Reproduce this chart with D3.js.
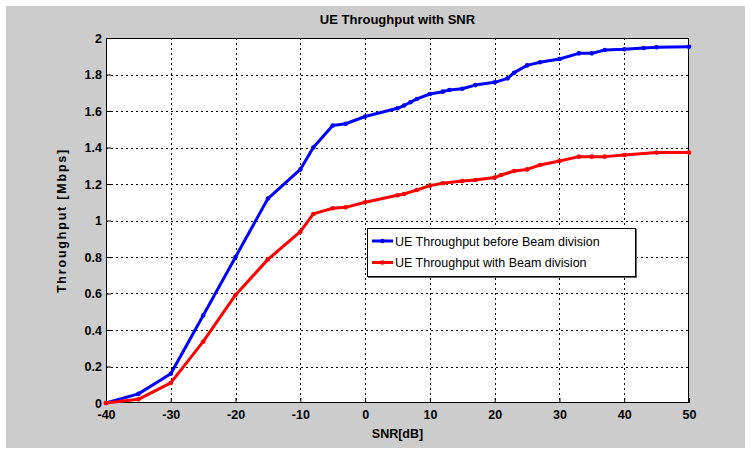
<!DOCTYPE html>
<html>
<head>
<meta charset="utf-8">
<script src="https://cdn.jsdelivr.net/npm/d3@7"></script>
<style>
  body { margin: 0; background: #fff; }
  svg text { font-family: "Liberation Sans", Arial, sans-serif; }
</style>
</head>
<body>
<svg width="750" height="450"></svg>
<script>
// data
var snrBefore = [-40, -35, -30, -25, -20, -15, -10, -8, -5, -3, 0, 5, 6, 7, 8, 10, 12, 13, 15, 17, 20, 22, 23, 25, 27, 30, 33, 35, 37, 40, 43, 45, 50];
var tputBefore = [0, 0.05, 0.16, 0.48, 0.80, 1.12, 1.28, 1.40, 1.52, 1.53, 1.57, 1.615, 1.63, 1.648, 1.666, 1.693, 1.706, 1.715, 1.722, 1.742, 1.757, 1.779, 1.81, 1.85, 1.867, 1.885, 1.916, 1.916, 1.934, 1.938, 1.945, 1.949, 1.952];
var snrWith = [-40, -35, -30, -25, -20, -15, -10, -8, -5, -3, 0, 5, 6, 8, 10, 12, 15, 17, 20, 21, 23, 25, 27, 30, 33, 35, 37, 40, 45, 50];
var tputWith = [0, 0.02, 0.11, 0.336, 0.592, 0.787, 0.939, 1.036, 1.067, 1.072, 1.10, 1.138, 1.145, 1.167, 1.191, 1.204, 1.216, 1.222, 1.235, 1.249, 1.271, 1.28, 1.304, 1.326, 1.35, 1.35, 1.35, 1.359, 1.372, 1.372];
var xTicks = [-40, -30, -20, -10, 0, 10, 20, 30, 40, 50];
var yTicks = [0, 0.2, 0.4, 0.6, 0.8, 1, 1.2, 1.4, 1.6, 1.8, 2];
var yTickLabels = ["0", "0.2", "0.4", "0.6", "0.8", "1", "1.2", "1.4", "1.6", "1.8", "2"];
var seriesNames = ["UE Throughput before Beam division", "UE Throughput with Beam division"];
var seriesColors = ["#0000ff", "#ff0000"];

var svg = d3.select("svg");

// matlab figure background
svg.append("rect")
    .attr("x", 6).attr("y", 6)
    .attr("width", 739).attr("height", 442)
    .attr("fill", "#cccccc");

var pLeft = 106, pRight = 689, pTop = 38, pBottom = 403;

var x = d3.scaleLinear().domain([-40, 50]).range([pLeft, pRight]);
var y = d3.scaleLinear().domain([0, 2]).range([pBottom, pTop]);

svg.append("rect")
    .attr("x", pLeft).attr("y", pTop)
    .attr("width", pRight - pLeft).attr("height", pBottom - pTop)
    .attr("fill", "#fff");

// grid
var grid = svg.append("g").attr("stroke", "#000").attr("stroke-width", 1).attr("stroke-dasharray", "2,3");
grid.selectAll(".gx")
    .data(xTicks.slice(1, -1))
    .enter().append("line")
    .attr("x1", function(d) { return Math.round(x(d)) + 0.5; })
    .attr("x2", function(d) { return Math.round(x(d)) + 0.5; })
    .attr("y1", pTop).attr("y2", pBottom);
grid.selectAll(".gy")
    .data(yTicks.slice(1, -1))
    .enter().append("line")
    .attr("y1", function(d) { return Math.round(y(d)) + 0.5; })
    .attr("y2", function(d) { return Math.round(y(d)) + 0.5; })
    .attr("x1", pLeft).attr("x2", pRight);

// axes
var xAxis = d3.axisBottom(x).tickValues(xTicks)
    .tickFormat(function(d) { return String(d); })
    .tickSizeInner(-5).tickSizeOuter(0).tickPadding(7);
var yAxis = d3.axisLeft(y).tickValues(yTicks)
    .tickFormat(function(d, i) { return yTickLabels[i]; })
    .tickSizeInner(-5).tickSizeOuter(0).tickPadding(4);

var gx = svg.append("g").attr("transform", "translate(0," + pBottom + ")").call(xAxis);
var gy = svg.append("g").attr("transform", "translate(" + pLeft + ",0)").call(yAxis);
[gx, gy].forEach(function(g) {
    g.select(".domain").remove();
    g.selectAll("text")
        .attr("fill", "#000")
        .style("font-size", "12.5px")
        .style("font-weight", "bold");
    g.selectAll("line").attr("stroke", "#000");
});

// plot box
svg.append("rect")
    .attr("x", pLeft + 0.5).attr("y", pTop + 0.5)
    .attr("width", pRight - pLeft - 1).attr("height", pBottom - pTop - 1)
    .attr("fill", "none").attr("stroke", "#000").attr("stroke-width", 1);

// series
var series = [
    {xs: snrBefore, ys: tputBefore},
    {xs: snrWith, ys: tputWith}
];
var line = d3.line()
    .x(function(d) { return x(d[0]); })
    .y(function(d) { return y(d[1]); });

series.forEach(function(s, k) {
    var pts = s.xs.map(function(v, i) { return [v, s.ys[i]]; });
    svg.append("path")
        .datum(pts)
        .attr("fill", "none")
        .attr("stroke", seriesColors[k])
        .attr("stroke-width", 3)
        .attr("stroke-linejoin", "round")
        .attr("d", line);
    svg.append("g").selectAll("circle")
        .data(pts)
        .enter().append("circle")
        .attr("cx", function(d) { return x(d[0]); })
        .attr("cy", function(d) { return y(d[1]); })
        .attr("r", 2.3)
        .attr("fill", seriesColors[k]);
});

// title and labels
svg.append("text")
    .attr("x", (pLeft + pRight) / 2).attr("y", 24)
    .attr("text-anchor", "middle")
    .style("font-size", "13px").style("font-weight", "bold")
    .text("UE Throughput with SNR");

svg.append("text")
    .attr("x", (pLeft + pRight) / 2).attr("y", 438)
    .attr("text-anchor", "middle")
    .style("font-size", "12.5px").style("font-weight", "bold")
    .text("SNR[dB]");

svg.append("text")
    .attr("transform", "translate(66," + ((pTop + pBottom) / 2) + ") rotate(-90)")
    .attr("text-anchor", "middle")
    .style("font-size", "12.5px").style("font-weight", "bold")
    .style("letter-spacing", "1.8px")
    .text("Throughput [Mbps]");

// legend
var lg = svg.append("g").attr("transform", "translate(367,228)");
lg.append("rect")
    .attr("x", 1.5).attr("y", 1.5)
    .attr("width", 268).attr("height", 48)
    .attr("fill", "none").attr("stroke", "#666").attr("stroke-width", 1);
lg.append("rect")
    .attr("x", 0.5).attr("y", 0.5)
    .attr("width", 268).attr("height", 48)
    .attr("fill", "#fff").attr("stroke", "#000").attr("stroke-width", 1);
seriesNames.forEach(function(name, k) {
    var ly = 13 + k * 21.5;
    lg.append("line")
        .attr("x1", 5).attr("x2", 26)
        .attr("y1", ly).attr("y2", ly)
        .attr("stroke", seriesColors[k]).attr("stroke-width", 3);
    lg.append("circle")
        .attr("cx", 15.5).attr("cy", ly).attr("r", 2.3)
        .attr("fill", seriesColors[k]);
    lg.append("text")
        .attr("x", 28).attr("y", ly + 4.5)
        .style("font-size", "12.5px")
        .text(name);
});
</script>
</body>
</html>
